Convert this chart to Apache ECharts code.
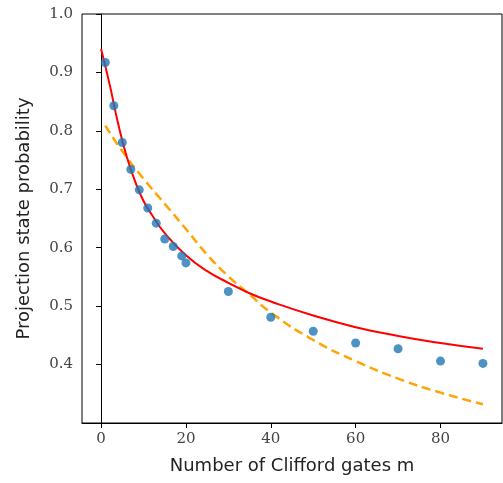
<!DOCTYPE html>
<html>
<head>
<meta charset="utf-8">
<style>
  html, body { margin: 0; padding: 0; background: #fff; }
  #chart { width: 503px; height: 483px; }
</style>
<script src="https://cdn.jsdelivr.net/npm/echarts@6/dist/echarts.min.js"></script>
</head>
<body>
<div id="chart"></div>
<script>
// Measured projection probabilities vs. sequence length
const gatesMeasured = [1, 3, 5, 7, 9, 11, 13, 15, 17, 19, 20, 30, 40, 50, 60, 70, 80, 90];
const probMeasured  = [0.917, 0.843, 0.780, 0.734, 0.699, 0.668, 0.642, 0.615, 0.602, 0.586, 0.574,
                       0.525, 0.481, 0.457, 0.437, 0.427, 0.406, 0.402];

// Fitted decay curve (solid red)
const gatesFit = [0, 2, 4, 6, 8, 10, 12, 15, 20, 25, 30, 35, 40, 50, 60, 70, 80, 90];
const probFit  = [0.940, 0.880, 0.813, 0.757, 0.714, 0.680, 0.656, 0.625, 0.587, 0.560, 0.540,
                  0.522, 0.508, 0.484, 0.464, 0.449, 0.437, 0.427];

// Model prediction (dashed orange)
const gatesModel = [1, 5, 10, 15, 20, 25, 30, 35, 40, 50, 60, 70, 80, 90];
const probModel  = [0.809, 0.765, 0.718, 0.675, 0.632, 0.588, 0.551, 0.520, 0.489, 0.442, 0.406,
                    0.376, 0.352, 0.332];

// Tick labels
const xTicks = [0, 20, 40, 60, 80];
const yTicks = [0.4, 0.5, 0.6, 0.7, 0.8, 0.9, 1.0];

const zip = (xs, ys) => xs.map((x, i) => [x, ys[i]]);

const chart = echarts.init(document.getElementById('chart'), null, { renderer: 'canvas' });

const tickFont = { fontFamily: 'DejaVu Serif', fontSize: 15, color: '#444' };
const titleFont = { fontFamily: 'DejaVu Sans', fontSize: 18, color: '#222' };

chart.setOption({
  animation: false,
  backgroundColor: '#fff',
  grid: {
    left: 82, right: 1, top: 14, bottom: 60,
    show: true, borderColor: '#000', borderWidth: 1, backgroundColor: 'transparent'
  },
  xAxis: {
    type: 'value',
    min: -4.5, max: 94.5,
    name: 'Number of Clifford gates m',
    nameLocation: 'middle',
    nameGap: 34,
    nameTextStyle: titleFont,
    axisLine: { show: true, lineStyle: { color: '#000', width: 1 } },
    axisTick: { show: true, length: 5, lineStyle: { color: '#000' }, customValues: xTicks },
    axisLabel: Object.assign({ margin: 9, customValues: xTicks }, tickFont),
    splitLine: { show: false }
  },
  yAxis: {
    type: 'value',
    min: 0.3, max: 1.0,
    name: 'Projection state probability',
    nameLocation: 'middle',
    nameGap: 49,
    nameTextStyle: titleFont,
    axisLine: { show: true, lineStyle: { color: '#000', width: 1 } },
    axisTick: { show: true, length: 5, lineStyle: { color: '#000' }, customValues: yTicks },
    axisLabel: Object.assign({
      margin: 9,
      customValues: yTicks,
      formatter: v => v.toFixed(1)
    }, tickFont),
    splitLine: { show: false }
  },
  series: [
    {
      type: 'line',
      data: zip(gatesModel, probModel),
      showSymbol: false,
      smooth: 0.5,
      lineStyle: { color: '#FFA500', width: 2.5, type: [9, 5] },
      z: 2
    },
    {
      type: 'line',
      data: zip(gatesFit, probFit),
      showSymbol: false,
      smooth: 0.5,
      lineStyle: { color: '#FF0000', width: 2 },
      z: 3
    },
    {
      type: 'scatter',
      data: zip(gatesMeasured, probMeasured),
      symbol: 'circle',
      symbolSize: 9,
      itemStyle: { color: '#1f77b4' },
      z: 4
    }
  ]
});
</script>
</body>
</html>
